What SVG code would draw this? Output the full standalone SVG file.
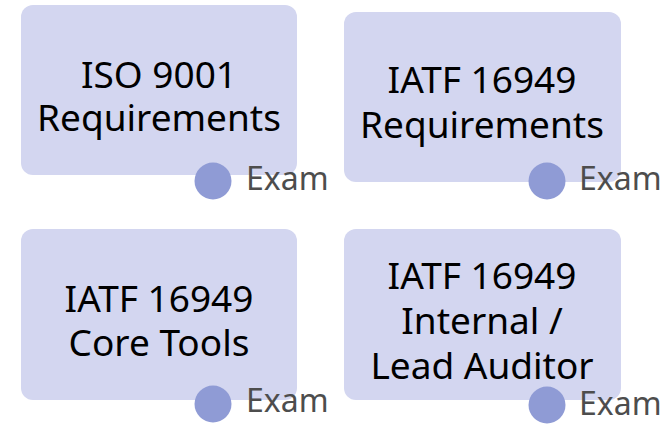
<svg xmlns="http://www.w3.org/2000/svg" width="665" height="424" viewBox="0 0 665 424">
<style>
.box{fill:#d3d6f0;}
.dot{fill:#8f9bd5;}
.t{font-family:"Noto Sans","Open Sans",sans-serif;font-size:37px;fill:#000;text-anchor:middle;}
.ex{font-family:"Noto Sans","Open Sans",sans-serif;font-size:32px;fill:#4d4d4d;}
</style>
<rect width="665" height="424" fill="#fff"/>
<g id="connectors"></g>
<g id="n1">
<rect class="box" x="21" y="5" width="276" height="170" rx="12"/>
<text class="t" x="159" y="88">ISO 9001</text>
<text class="t" x="159" y="131">Requirements</text>
<circle class="dot" cx="213" cy="181" r="18.5"/>
<text class="ex" x="246" y="190">Exam</text>
</g>
<g id="n2">
<rect class="box" x="344" y="12" width="277" height="170" rx="12"/>
<text class="t" x="482" y="93">IATF 16949</text>
<text class="t" x="482" y="138">Requirements</text>
<circle class="dot" cx="547" cy="181" r="18.5"/>
<text class="ex" x="579" y="190">Exam</text>
</g>
<g id="n3">
<rect class="box" x="21" y="229" width="276" height="171" rx="12"/>
<text class="t" x="159" y="312">IATF 16949</text>
<text class="t" x="159" y="356">Core Tools</text>
<circle class="dot" cx="213" cy="404" r="18.5"/>
<text class="ex" x="246" y="412">Exam</text>
</g>
<g id="n4">
<rect class="box" x="344" y="229" width="277" height="171" rx="12"/>
<text class="t" x="482" y="289">IATF 16949</text>
<text class="t" x="482" y="334">Internal /</text>
<text class="t" x="482" y="379">Lead Auditor</text>
<circle class="dot" cx="547" cy="405" r="18.5"/>
<text class="ex" x="579" y="415">Exam</text>
</g>
</svg>
